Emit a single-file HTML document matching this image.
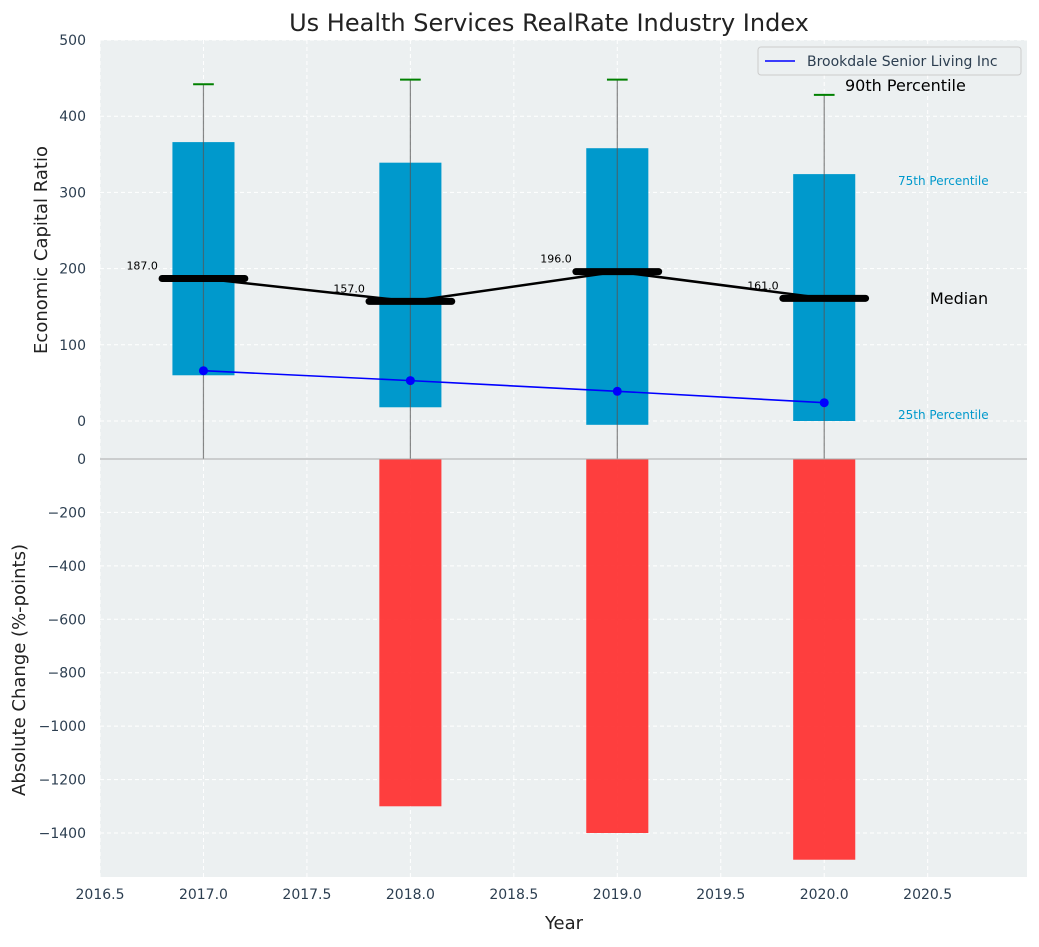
<!DOCTYPE html>
<html><head><meta charset="utf-8"><style>
body{margin:0;background:#fff;font-family:"Liberation Sans","DejaVu Sans",sans-serif;}
svg text{font-family:"DejaVu Sans","Liberation Sans",sans-serif;}
</style></head><body>
<svg id="c" width="1039" height="942" xmlns="http://www.w3.org/2000/svg"></svg>
<script>
const years=[2017,2018,2019,2020];
const p25=[60,18,-5,0];
const p75=[366,339,358,324];
const p90=[442,448,448,428];
const median=[187,157,196,161];
const company=[66,53,39,24];
const absChange=[0,-1300,-1400,-1500];
const xTicks=[2016.5,2017.0,2017.5,2018.0,2018.5,2019.0,2019.5,2020.0,2020.5];
const yTopTicks=[0,100,200,300,400,500];
const yBotTicks=[0,-200,-400,-600,-800,-1000,-1200,-1400];

const NS="http://www.w3.org/2000/svg";
const svg=document.getElementById('c');
const L=100,R=1027,T1=40,B1=459,T2=459,B2=877;
const x=v=>L+(v-2016.5)/(2020.98-2016.5)*(R-L);
const yT=v=>421-(v)*0.762;
const yB=v=>459+(-v)*(374/1400);
function el(tag,a,p){const e=document.createElementNS(NS,tag);for(const k in a)e.setAttribute(k,a[k]);(p||svg).appendChild(e);return e;}
function tx(s,a){const e=el('text',a);e.textContent=s;return e;}

let bg1=el('rect',{x:L,y:T1,width:R-L,height:B1-T1,fill:'#ecf0f1'});

let bg2=el('rect',{x:L,y:T2,width:R-L,height:B2-T2,fill:'#ecf0f1'});


// grids
xTicks.forEach(t=>{
  let g=el('line',{x1:x(t),x2:x(t),y1:T1,y2:B2,stroke:'#fff','stroke-dasharray':'4,3','stroke-width':1});
  
  let l=tx(t.toFixed(1),{x:x(t),y:B2+22,'text-anchor':'middle','font-size':14,fill:'#2c3e50'});
  
});
yTopTicks.forEach(t=>{
  let g=el('line',{x1:L,x2:R,y1:yT(t),y2:yT(t),stroke:'#fff','stroke-dasharray':'4,3'});
  
  let l=tx(String(t),{x:L-14,y:yT(t)+5,'text-anchor':'end','font-size':14,fill:'#2c3e50'});
  
});
yBotTicks.forEach(t=>{
  let g=el('line',{x1:L,x2:R,y1:yB(t),y2:yB(t),stroke:'#fff','stroke-dasharray':'4,3'});
  
  let l=tx(t<0?'\u2212'+(-t):String(t),{x:L-14,y:yB(t)+5,'text-anchor':'end','font-size':14,fill:'#2c3e50'});
  
});

// red bars
years.forEach((yr,i)=>{
  if(absChange[i]===0)return;
  let r=el('rect',{x:x(yr-0.15),y:yB(0),width:x(yr+0.15)-x(yr-0.15),height:yB(absChange[i])-yB(0),fill:'#ff3030','fill-opacity':0.93});
  
});

// boxes
years.forEach((yr,i)=>{
  let r=el('rect',{x:x(yr-0.15),y:yT(p75[i]),width:x(yr+0.15)-x(yr-0.15),height:yT(p25[i])-yT(p75[i]),fill:'#0099cc'});
  
  let w=el('line',{x1:x(yr),x2:x(yr),y1:yT(p90[i]),y2:B1,stroke:'#555','stroke-opacity':0.7,'stroke-width':1.2});
  
  let w2=el('line',{x1:x(yr),x2:x(yr),y1:T2,y2:yB(0),stroke:'#555'});
  let c=el('line',{x1:x(yr-0.05),x2:x(yr+0.05),y1:yT(p90[i]),y2:yT(p90[i]),stroke:'green','stroke-width':2});
  
});

// median line
let mp=years.map((yr,i)=>x(yr)+','+yT(median[i])).join(' ');
let ml=el('polyline',{points:mp,fill:'none',stroke:'#000','stroke-width':2.5});

years.forEach((yr,i)=>{
  let m=el('line',{x1:x(yr-0.2),x2:x(yr+0.2),y1:yT(median[i]),y2:yT(median[i]),stroke:'#000','stroke-width':7,'stroke-linecap':'round'});
  
  let t=tx(median[i].toFixed(1),{x:x(yr-0.22),y:yT(median[i])-9,'text-anchor':'end','font-size':11,fill:'#000'});
  
});

// company line
let cp=years.map((yr,i)=>x(yr)+','+yT(company[i])).join(' ');
let cl=el('polyline',{points:cp,fill:'none',stroke:'blue','stroke-width':1.6});

years.forEach((yr,i)=>{
  let d=el('circle',{cx:x(yr),cy:yT(company[i]),r:4.5,fill:'blue'});
  
});

// separator
let sep=el('line',{x1:L,x2:R,y1:459,y2:459,stroke:'#aaa','stroke-width':1});


// annotations
let a1=tx('90th Percentile',{x:845,y:91,'font-size':16,fill:'#000'});
let a2=tx('75th Percentile',{x:898,y:185,'font-size':12,fill:'#0099cc'});
let a3=tx('Median',{x:930,y:304,'font-size':16,fill:'#000'});
let a4=tx('25th Percentile',{x:898,y:419,'font-size':12,fill:'#0099cc'});

// legend
let lg=el('rect',{x:758,y:47,width:263,height:28,fill:'#ecf0f1',stroke:'#ccc',rx:3});

let ll=el('line',{x1:765,x2:795,y1:61,y2:61,stroke:'blue','stroke-width':1.6});

let lt=tx('Brookdale Senior Living Inc',{x:807,y:66,'font-size':14,fill:'#2c3e50'});


// titles
let ti=tx('Us Health Services RealRate Industry Index',{x:549,y:31,'text-anchor':'middle','font-size':24,fill:'#222'});

let xt=tx('Year',{x:564,y:929,'text-anchor':'middle','font-size':18,fill:'#222'});

let yt1=tx('Economic Capital Ratio',{x:0,y:0,'text-anchor':'middle','font-size':18,fill:'#222',transform:'translate(47,250) rotate(-90)'});

let yt2=tx('Absolute Change (%-points)',{x:0,y:0,'text-anchor':'middle','font-size':18,fill:'#222',transform:'translate(25,670) rotate(-90)'});

</script>
</body></html>
